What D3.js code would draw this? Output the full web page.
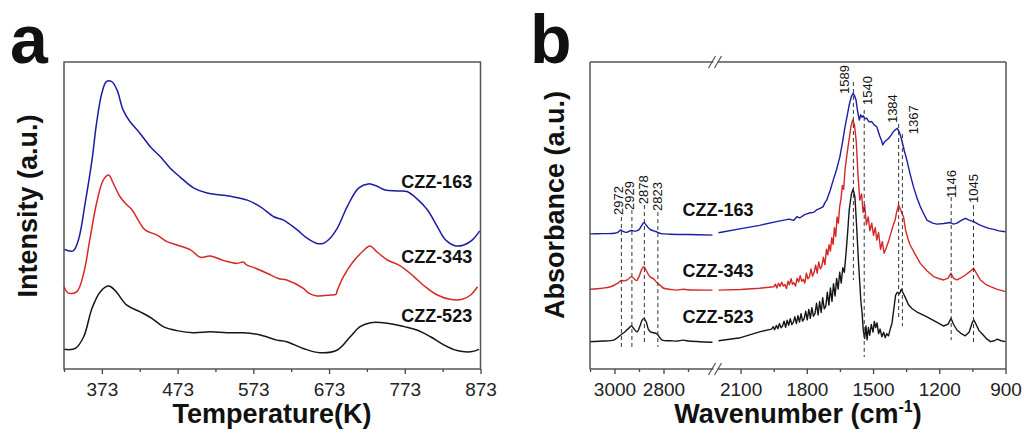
<!DOCTYPE html>
<html>
<head>
<meta charset="utf-8">
<script src="https://cdn.jsdelivr.net/npm/d3@7"></script>
<style>
  body { margin: 0; background: #fff; }
  svg { display: block; font-family: "Liberation Sans", Arial, sans-serif; }
</style>
</head>
<body>
<svg id="chart" width="1024" height="434"></svg>
<script>
// ---- panel a : TPD profiles, [temperature K, intensity a.u.] ----
const tpd163 = [[323,39.0],[335,38.5],[342,42.0],[351,54.1],[360,68.1],[366,80.1],[373,89.9],[379,93.6],[386,93.6],[393,90.9],[401,84.4],[410,80.6],[423,76.9],[437,72.4],[450,69.2],[463,65.5],[476,62.6],[494,59.0],[512,57.3],[530,56.7],[546,56.1],[565,55.0],[582,52.9],[600,49.6],[613,48.5],[631,45.3],[644,42.6],[657,40.9],[665,40.9],[672,42.0],[684,45.9],[697,52.9],[712,58.9],[725,60.3],[736,59.6],[747,58.3],[763,58.0],[776,57.8],[791,55.0],[803,51.8],[816,46.4],[827,42.0],[840,40.1],[851,40.4],[862,42.0],[872,45.0]];
const tpd343 = [[323,26.8],[329,24.7],[340,25.2],[349,31.2],[357,42.0],[366,54.0],[375,61.6],[382,63.2],[388,60.5],[397,56.1],[404,54.0],[413,51.8],[421,48.5],[430,45.3],[446,43.6],[459,41.5],[472,40.4],[490,38.8],[503,36.4],[516,36.8],[534,35.3],[551,34.4],[560,34.8],[564,33.9],[573,33.1],[591,31.2],[606,29.5],[617,29.0],[639,26.3],[646,24.7],[657,23.8],[675,24.1],[682,24.3],[684,25.7],[692,30.1],[705,35.0],[717,38.2],[727,40.1],[736,38.2],[750,35.5],[767,33.6],[785,30.1],[800,26.8],[816,24.1],[833,22.7],[849,22.7],[860,24.1],[869,26.8]];
const tpd523 = [[323,6.4],[338,6.7],[349,10.5],[360,19.8],[371,25.2],[382,27.0],[390,25.7],[406,20.8],[423,18.7],[439,16.5],[454,13.8],[472,12.5],[494,11.8],[516,12.1],[538,11.8],[560,11.8],[582,11.1],[604,9.4],[617,8.9],[639,6.7],[661,5.3],[684,6.2],[701,10.5],[714,13.8],[728,15.1],[750,14.9],[772,13.8],[789,12.7],[807,10.5],[825,7.8],[842,6.0],[860,5.6],[871,6.4]];
const tpdNames = ["CZZ-163", "CZZ-343", "CZZ-523"];
const tpdLabelAt = [[862,59.0],[862,34.5],[862,15.3]];
const tempMajor = [373, 473, 573, 673, 773, 873];
const tempMinor = [323, 423, 523, 623, 723, 823];

// ---- panel b : IR spectra, [wavenumber cm-1, absorbance a.u.], broken axis ----
const ir163Hi = [[3100,44.0],[3050,44.1],[3000,44.2],[2985,44.6],[2974,45.3],[2965,44.8],[2950,44.5],[2932,45.1],[2915,44.9],[2900,45.4],[2890,46.6],[2880,47.7],[2870,46.8],[2855,45.5],[2840,45.0],[2826,44.6],[2810,44.1],[2770,43.9],[2700,43.8],[2600,43.6]];
const ir343Hi = [[3100,26.0],[3050,26.3],[3016,26.8],[2990,27.8],[2973,28.8],[2960,28.7],[2948,29.0],[2931,30.1],[2920,29.4],[2910,28.8],[2898,30.5],[2888,32.6],[2880,33.3],[2870,32.0],[2856,30.1],[2840,29.3],[2826,28.1],[2810,27.0],[2799,26.3],[2770,25.9],[2744,25.7],[2720,26.0],[2700,25.8],[2600,25.7]];
const ir523Hi = [[3100,8.9],[3050,9.1],[3004,9.4],[2985,10.4],[2969,11.4],[2955,12.3],[2940,13.4],[2931,14.0],[2920,13.0],[2908,12.1],[2896,14.0],[2888,15.8],[2880,16.5],[2870,15.2],[2862,13.0],[2853,12.1],[2840,11.8],[2826,11.4],[2815,10.2],[2805,9.4],[2770,9.2],[2744,9.1],[2720,9.4],[2700,9.1],[2600,8.7]];
const ir163Lo = [[2200,44.4],[2091,45.8],[2014,46.8],[1938,48.0],[1880,48.8],[1860,48.4],[1845,49.6],[1832,49.2],[1810,50.3],[1790,50.8],[1770,51.0],[1756,51.8],[1740,52.3],[1726,52.9],[1718,54.2],[1710,55.0],[1695,58.0],[1680,61.6],[1665,65.0],[1650,69.2],[1638,74.0],[1627,78.9],[1617,82.5],[1608,86.0],[1598,88.8],[1590,89.8],[1583,88.9],[1577,87.6],[1570,84.0],[1562,81.1],[1556,82.8],[1550,82.0],[1544,82.5],[1536,81.5],[1529,81.7],[1518,80.5],[1506,80.6],[1495,79.5],[1483,78.9],[1470,76.0],[1462,74.5],[1456,73.0],[1448,74.0],[1438,74.6],[1430,75.1],[1418,76.2],[1408,77.3],[1398,78.0],[1390,78.4],[1380,77.0],[1370,74.6],[1358,71.0],[1347,68.1],[1332,63.5],[1317,59.4],[1300,55.5],[1286,52.9],[1270,50.5],[1256,48.5],[1230,47.5],[1210,47.2],[1180,47.4],[1150,47.7],[1135,47.2],[1120,47.5],[1100,48.4],[1082,49.1],[1065,48.5],[1044,48.0],[1020,47.0],[998,46.4],[975,45.8],[953,45.5],[930,45.0],[900,44.7]];
const ir343Lo = [[2200,25.7],[2100,25.9],[2014,26.3],[1950,26.8],[1942,27.6],[1936,26.4],[1928,27.9],[1921,26.9],[1914,28.3],[1906,27.0],[1899,27.5],[1892,26.2],[1885,28.6],[1879,27.4],[1871,29.4],[1865,27.6],[1858,28.1],[1851,27.0],[1844,29.6],[1837,28.3],[1830,30.4],[1823,28.6],[1816,29.2],[1809,28.0],[1802,31.2],[1795,29.4],[1788,30.0],[1781,32.6],[1774,30.2],[1767,31.5],[1760,33.8],[1753,31.2],[1746,34.9],[1739,32.6],[1732,33.4],[1725,36.4],[1718,34.0],[1711,39.0],[1705,37.2],[1699,40.5],[1693,38.4],[1687,42.8],[1681,40.6],[1675,46.0],[1669,43.2],[1663,49.5],[1657,47.5],[1651,53.0],[1645,55.5],[1639,59.8],[1633,58.5],[1627,64.8],[1618,70.0],[1610,74.0],[1600,79.0],[1592,81.1],[1584,79.5],[1576,74.0],[1568,63.0],[1560,55.0],[1552,57.0],[1545,51.0],[1538,53.5],[1530,47.0],[1522,49.5],[1514,45.0],[1506,47.5],[1498,43.5],[1490,46.0],[1483,42.0],[1475,44.5],[1466,39.0],[1458,41.5],[1450,37.7],[1440,39.5],[1430,41.5],[1420,44.0],[1410,46.5],[1400,48.5],[1392,51.5],[1384,53.4],[1376,52.0],[1368,50.5],[1362,49.6],[1352,45.0],[1340,42.0],[1332,40.4],[1310,37.5],[1286,34.4],[1256,32.0],[1226,30.1],[1200,29.4],[1180,29.0],[1160,29.6],[1147,31.2],[1135,29.5],[1120,29.0],[1100,29.8],[1082,30.6],[1060,31.8],[1044,32.8],[1030,31.0],[1014,29.0],[990,27.6],[968,26.8],[940,26.0],[920,25.6],[900,25.2]];
const ir523Lo = [[2200,9.2],[2100,10.2],[2014,12.1],[1960,13.0],[1952,13.8],[1946,12.8],[1938,14.2],[1931,13.1],[1924,14.8],[1917,13.4],[1910,14.0],[1903,15.6],[1896,13.6],[1889,15.9],[1882,14.2],[1875,16.4],[1868,14.5],[1861,15.2],[1854,17.0],[1847,14.8],[1840,17.4],[1833,15.3],[1826,18.0],[1819,15.6],[1812,16.4],[1805,18.8],[1798,16.0],[1791,19.4],[1784,16.5],[1777,20.0],[1770,17.2],[1763,18.0],[1756,21.4],[1749,17.6],[1742,22.0],[1735,18.4],[1728,23.2],[1721,19.6],[1714,20.5],[1707,25.0],[1700,20.8],[1693,26.4],[1686,22.0],[1679,27.8],[1672,23.8],[1665,29.5],[1658,26.0],[1651,31.5],[1644,28.0],[1637,33.0],[1630,31.5],[1622,38.0],[1615,44.5],[1608,51.8],[1598,57.0],[1590,58.6],[1582,56.0],[1574,46.0],[1566,35.0],[1560,28.0],[1555,22.0],[1550,18.5],[1544,12.5],[1538,10.0],[1532,14.0],[1527,9.5],[1521,13.5],[1515,11.0],[1508,14.5],[1500,12.0],[1494,15.5],[1488,13.5],[1482,15.0],[1475,11.5],[1468,13.0],[1460,10.5],[1452,12.0],[1445,10.2],[1438,11.5],[1430,10.8],[1422,13.0],[1414,15.0],[1405,20.0],[1398,24.0],[1390,25.0],[1380,24.5],[1372,26.0],[1362,24.5],[1352,23.0],[1340,21.0],[1325,19.8],[1300,18.5],[1256,17.0],[1210,15.2],[1180,14.0],[1160,14.6],[1147,16.5],[1135,14.5],[1120,12.7],[1100,11.5],[1082,10.8],[1065,12.0],[1050,15.2],[1044,16.0],[1035,14.8],[1020,12.5],[1006,11.5],[985,9.8],[968,8.9],[950,9.2],[938,9.7],[920,9.2],[900,8.9]];
const irNames = ["CZZ-163", "CZZ-343", "CZZ-523"];
const irLabelAt = [[2722,49.8],[2722,30.0],[2722,15.0]];
const wnMajorHi = [3000, 2800], wnMinorHi = [3100, 2900, 2700];
const wnMajorLo = [2100, 1800, 1500, 1200, 900], wnMinorLo = [1950, 1650, 1350, 1050];

// peak marks: wavenumber, dashed line top / bottom, label bottom (a.u.)
const peakWn     = [2972, 2929, 2878, 2823, 1589, 1540, 1384, 1367, 1146, 1045];
const peakTop    = [49.5, 51.8, 53.4, 51.1, 93.5, 84.4, 79.8, 76.5, 56.0, 53.4];
const peakBottom = [7.2, 7.2, 7.8, 7.2, 29.0, 3.9, 16.6, 14.0, 9.4, 7.8];
const peakLabelY = [50.2, 51.8, 53.7, 51.5, 89.6, 86.0, 80.1, 76.5, 55.7, 54.1];
// horizontal nudge of each peak label, pixels
const peakLabelDx = [-3, -2, -1, 0, -9, 3, -6, 11, 0, 0];

const colors = ["#1c1ca6", "#d62828", "#161616"];

const svg = d3.select("#chart");
const plotTop = 62, plotBottom = 369;
const y = d3.scaleLinear().domain([0, 100]).range([plotBottom, plotTop]);

function drawTicks(g, scale, major, minor) {
    const gMaj = g.append("g").attr("transform", `translate(0,${plotBottom})`)
        .call(d3.axisBottom(scale).tickValues(major).tickFormat(d3.format("d"))
            .tickSize(5).tickPadding(9).tickSizeOuter(0));
    const gMin = g.append("g").attr("transform", `translate(0,${plotBottom})`)
        .call(d3.axisBottom(scale).tickValues(minor).tickSize(3).tickFormat("").tickSizeOuter(0));
    [gMaj, gMin].forEach(a => {
        a.select(".domain").remove();
        a.selectAll("line").attr("stroke", "#444").attr("stroke-width", 1.3);
    });
    gMaj.selectAll("text").attr("font-size", 19).attr("fill", "#222")
        .attr("font-family", "Liberation Sans, Arial, sans-serif");
}

// ================= panel a =================
const xA = d3.scaleLinear().domain([323, 873]).range([64, 480.5]);
const pa = svg.append("g");
const lineA = d3.line().curve(d3.curveCatmullRom.alpha(0.5)).x(d => xA(d[0])).y(d => y(d[1]));

[tpd163, tpd343, tpd523].forEach((s, i) => {
    pa.append("path").datum(s).attr("d", lineA)
        .attr("fill", "none").attr("stroke", colors[i]).attr("stroke-width", 1.5);
});

pa.append("rect").attr("x", 64).attr("y", plotTop).attr("width", 480.5 - 64).attr("height", plotBottom - plotTop)
    .attr("fill", "none").attr("stroke", "#555").attr("stroke-width", 1.5);
drawTicks(pa, xA, tempMajor, tempMinor);

pa.selectAll(".slabel").data(tpdNames).enter().append("text")
    .attr("x", (d, i) => xA(tpdLabelAt[i][0])).attr("y", (d, i) => y(tpdLabelAt[i][1]))
    .attr("text-anchor", "end").attr("font-size", 18).attr("font-weight", "bold").attr("fill", "#111")
    .text(d => d);

pa.append("text").attr("x", 272).attr("y", 423).attr("text-anchor", "middle")
    .attr("font-size", 27).attr("font-weight", "bold").attr("fill", "#111").text("Temperature(K)");
pa.append("text").attr("transform", "translate(37,206) rotate(-90)").attr("text-anchor", "middle")
    .attr("font-size", 27).attr("font-weight", "bold").attr("fill", "#111").text("Intensity (a.u.)");
pa.append("text").attr("x", 10).attr("y", 63).attr("font-size", 68).attr("font-weight", "bold")
    .attr("fill", "#111").text("a");

// ================= panel b =================
const xHi = d3.scaleLinear().domain([3100, 2600]).range([590, 712.5]);
const xLo = d3.scaleLinear().domain([2200, 900]).range([718.5, 1005.5]);
const pb = svg.append("g");
const lineHi = d3.line().curve(d3.curveCatmullRom.alpha(0.5)).x(d => xHi(d[0])).y(d => y(d[1]));
const lineLo = d3.line().x(d => xLo(d[0])).y(d => y(d[1]));

[[ir163Hi, ir163Lo], [ir343Hi, ir343Lo], [ir523Hi, ir523Lo]].forEach((s, i) => {
    pb.append("path").datum(s[0]).attr("d", lineHi)
        .attr("fill", "none").attr("stroke", colors[i]).attr("stroke-width", 1.4);
    pb.append("path").datum(s[1]).attr("d", lineLo)
        .attr("fill", "none").attr("stroke", colors[i]).attr("stroke-width", 1.4)
        .attr("stroke-linejoin", "round");
});

// dashed peak markers
const peakX = w => (w > 2400 ? xHi(w) : xLo(w));
pb.selectAll(".pline").data(peakWn).enter().append("line")
    .attr("x1", d => peakX(d)).attr("x2", d => peakX(d))
    .attr("y1", (d, i) => y(peakTop[i])).attr("y2", (d, i) => y(peakBottom[i]))
    .attr("stroke", "#333").attr("stroke-width", 1).attr("stroke-dasharray", "4,3");
pb.selectAll(".plabel").data(peakWn).enter().append("text")
    .attr("transform", (d, i) => `translate(${peakX(d) + peakLabelDx[i]},${y(peakLabelY[i])}) rotate(-90)`)
    .attr("dy", "0.35em").attr("font-size", 13).attr("fill", "#111")
    .text(d => d);

// frame with axis break
const frame = pb.append("g").attr("stroke", "#555").attr("stroke-width", 1.5).attr("fill", "none");
[plotTop, plotBottom].forEach(yy => {
    frame.append("line").attr("x1", 590).attr("x2", xHi(2600) + 1).attr("y1", yy).attr("y2", yy);
    frame.append("line").attr("x1", xLo(2200) - 1).attr("x2", 1006).attr("y1", yy).attr("y2", yy);
    [-3.5, 2.5].forEach(off => {
        const cx = (xHi(2600) + xLo(2200)) / 2 + off;
        frame.append("line").attr("x1", cx - 3.5).attr("x2", cx + 3.5)
            .attr("y1", yy + 6).attr("y2", yy - 6).attr("stroke-width", 1.2);
    });
});
frame.append("line").attr("x1", 590).attr("x2", 590).attr("y1", plotTop).attr("y2", plotBottom);
frame.append("line").attr("x1", 1006).attr("x2", 1006).attr("y1", plotTop).attr("y2", plotBottom);

drawTicks(pb, xHi, wnMajorHi, wnMinorHi);
drawTicks(pb, xLo, wnMajorLo, wnMinorLo);

pb.selectAll(".slabel").data(irNames).enter().append("text")
    .attr("x", (d, i) => xHi(irLabelAt[i][0])).attr("y", (d, i) => y(irLabelAt[i][1]))
    .attr("font-size", 18).attr("font-weight", "bold").attr("fill", "#111")
    .text(d => d);

const xt = pb.append("text").attr("x", 798).attr("y", 423).attr("text-anchor", "middle")
    .attr("font-size", 27).attr("font-weight", "bold").attr("fill", "#111");
xt.append("tspan").text("Wavenumber (cm");
xt.append("tspan").attr("font-size", 16).attr("dy", -11).text("-1");
xt.append("tspan").attr("dy", 11).text(")");
pb.append("text").attr("transform", "translate(564,205) rotate(-90)").attr("text-anchor", "middle")
    .attr("font-size", 27).attr("font-weight", "bold").attr("fill", "#111").text("Absorbance (a.u.)");
pb.append("text").attr("x", 530).attr("y", 63).attr("font-size", 68).attr("font-weight", "bold")
    .attr("fill", "#111").text("b");
</script>
</body>
</html>
